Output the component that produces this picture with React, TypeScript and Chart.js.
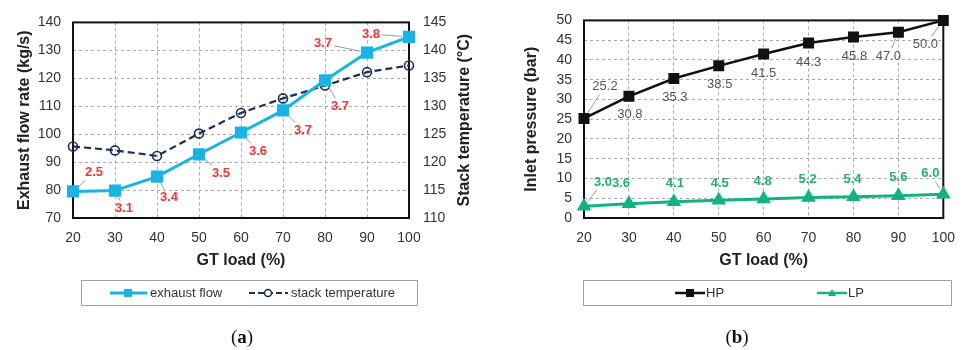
import React, { useEffect, useRef } from 'react';
import { Chart, registerables } from 'chart.js';
Chart.register(...registerables);

// ---------- data ----------
const gtLoad = [20, 30, 40, 50, 60, 70, 80, 90, 100];
const exhaustFlow = [79.5, 79.8, 84.8, 92.8, 100.6, 108.5, 119.3, 129.2, 134.8];
const stackTemp = [122.8, 122.1, 121.1, 125.1, 128.8, 131.4, 133.7, 136.1, 137.3];
const exhaustNotes = ['2.5', '3.1', '3.4', '3.5', '3.6', '3.7', '3.7', '3.7', '3.8'];
const hpPressure = [25.2, 30.8, 35.3, 38.5, 41.5, 44.3, 45.8, 47.0, 50.0];
const lpPressure = [3.0, 3.6, 4.1, 4.5, 4.8, 5.2, 5.4, 5.6, 6.0];

// label placement (offsets from the point, px)
const exhaustDx = [21, 9, 12, 22, 17, 20, 15, -44, -38];
const exhaustDy = [-19, 18, 21, 19, 19, 20, 26, -9, -3];
const exhaustLeader = [true, true, true, true, true, true, true, true, true];
const hpDx = [21, 1, 1, 1, 0, 0, 1, -10, -18];
const hpDy = [-32, 18, 19, 19, 19, 19, 19, 24, 24];
const hpLeader = [true, false, false, false, false, false, false, true, true];
const lpDx = [19, -8, 1, 1, -1, -1, -1, 0, -13];
const lpDy = [-24, -20, -18, -17, -18, -18, -17, -18, -21];
const lpLeader = [true, false, false, false, false, false, false, false, true];

const CYAN = '#19B4E3';
const NAVY = '#1C2F5C';
const RED = '#FF3333';
const GREEN = '#12B382';
const GREEN_TXT = '#1DB36E';
const FONT = "'Liberation Sans', Arial, sans-serif";

type LabelSet = {
  dataset: number; texts: string[]; dx: number[]; dy: number[]; leader: boolean[];
  color: string; font: string;
};

function makeLabelPlugin(sets: LabelSet[]) {
  return {
    id: 'pointLabels',
    afterDatasetsDraw(chart: any) {
      const ctx = chart.ctx;
      ctx.save();
      sets.forEach((set) => {
        const meta = chart.getDatasetMeta(set.dataset);
        ctx.font = set.font;
        ctx.textAlign = 'center';
        ctx.textBaseline = 'middle';
        meta.data.forEach((pt: any, i: number) => {
          const px = pt.x, py = pt.y;
          const cx = px + set.dx[i], cy = py + set.dy[i];
          const text = set.texts[i];
          const w = ctx.measureText(text).width;
          if (set.leader[i]) {
            const vx = cx - px, vy = cy - py;
            const len = Math.hypot(vx, vy);
            const ux = vx / len, uy = vy / len;
            const hw = w / 2 + 2, hh = 8;
            const s = Math.min(
              Math.abs(vx) > 0 ? hw / Math.abs(vx) : Infinity,
              Math.abs(vy) > 0 ? hh / Math.abs(vy) : Infinity
            );
            if (s < 1) {
              const ex = cx - vx * s, ey = cy - vy * s;
              ctx.beginPath();
              ctx.moveTo(px + ux * 7, py + uy * 7);
              ctx.lineTo(ex, ey);
              ctx.strokeStyle = '#9a9a9a';
              ctx.lineWidth = 1;
              ctx.stroke();
            }
          }
          ctx.fillStyle = set.color;
          ctx.fillText(text, cx, cy);
        });
      });
      ctx.restore();
    },
  };
}

const framePlugin = {
  id: 'frame',
  beforeDatasetsDraw(chart: any) {
    const { ctx, chartArea: a } = chart;
    ctx.save();
    ctx.strokeStyle = '#111';
    ctx.lineWidth = 2;
    ctx.strokeRect(a.left, a.top, a.right - a.left, a.bottom - a.top);
    ctx.restore();
  },
};

function makeSideTitle(text: string, x: number) {
  return {
    id: 'sideTitle',
    afterDraw(chart: any) {
      const { ctx, chartArea: a } = chart;
      ctx.save();
      ctx.translate(x, (a.top + a.bottom) / 2);
      ctx.rotate(-Math.PI / 2);
      ctx.font = `bold 16px ${FONT}`;
      ctx.fillStyle = '#222';
      ctx.textAlign = 'center';
      ctx.textBaseline = 'middle';
      ctx.fillText(text, 0, 0);
      ctx.restore();
    },
  };
}

const tickFont = { family: FONT, size: 14 };

const xScale = (title: string) => ({
  type: 'linear' as const,
  min: 20,
  max: 100,
  ticks: { stepSize: 10, padding: 12, color: '#333', font: tickFont, autoSkip: false, maxRotation: 0 },
  grid: { color: '#a8a8a8', lineWidth: 1, drawTicks: false },
  border: { display: false, dash: [3, 3] },
  title: {
    display: true, text: title, color: '#222',
    font: { family: FONT, size: 16, weight: 'bold' as const },
    padding: { top: 0, bottom: 5 },
  },
  afterFit: (s: any) => { s.height = 57; },
});

function LeftChart() {
  const ref = useRef<HTMLCanvasElement>(null);
  useEffect(() => {
    const chart = new Chart(ref.current!, {
      type: 'line',
      data: {
        labels: gtLoad,
        datasets: [
          {
            label: 'exhaust flow',
            data: gtLoad.map((x, i) => ({ x, y: exhaustFlow[i] })),
            borderColor: CYAN, backgroundColor: CYAN, borderWidth: 3,
            pointStyle: 'rect', pointRadius: 6.5, pointBackgroundColor: CYAN,
            pointBorderColor: CYAN, yAxisID: 'y', clip: false as any,
          },
          {
            label: 'stack temperature',
            data: gtLoad.map((x, i) => ({ x, y: stackTemp[i] })),
            borderColor: NAVY, borderWidth: 2.2, borderDash: [7, 4],
            pointStyle: 'circle', pointRadius: 4.5, pointBackgroundColor: 'rgba(255,255,255,0)',
            pointBorderColor: NAVY, pointBorderWidth: 1.6, yAxisID: 'y2', clip: false as any,
          },
        ],
      },
      options: {
        animation: false,
        responsive: false,
        layout: { padding: { top: 17, left: 0, right: 0, bottom: 0 } },
        plugins: { legend: { display: false }, tooltip: { enabled: false } },
        scales: {
          x: xScale('GT load (%)') as any,
          y: {
            type: 'linear', position: 'left', min: 70, max: 140,
            ticks: { stepSize: 10, padding: 12, color: '#333', font: tickFont, autoSkip: false },
            grid: { color: '#a8a8a8', drawTicks: false },
            border: { display: false, dash: [3, 3] },
            title: {
              display: true, text: 'Exhaust flow rate (kg/s)', color: '#222',
              font: { family: FONT, size: 16, weight: 'bold' }, padding: { top: 15, bottom: 0 },
            },
            afterFit: (s: any) => { s.width = 73; },
          },
          y2: {
            type: 'linear', position: 'right', min: 110, max: 145,
            ticks: { stepSize: 5, padding: 14, color: '#333', font: tickFont, autoSkip: false },
            grid: { display: false, drawTicks: false },
            border: { display: false },
            afterFit: (s: any) => { s.width = 71; },
          },
        } as any,
      },
      plugins: [
        framePlugin,
        makeSideTitle('Stack temperature (°C)', 465),
        makeLabelPlugin([
          {
            dataset: 0, texts: exhaustNotes, dx: exhaustDx, dy: exhaustDy, leader: exhaustLeader,
            color: RED, font: `bold 13px ${FONT}`,
          },
        ]),
      ],
    });
    return () => chart.destroy();
  }, []);
  return <canvas ref={ref} width={480} height={275} />;
}

function RightChart() {
  const ref = useRef<HTMLCanvasElement>(null);
  useEffect(() => {
    const chart = new Chart(ref.current!, {
      type: 'line',
      data: {
        labels: gtLoad,
        datasets: [
          {
            label: 'HP',
            data: gtLoad.map((x, i) => ({ x, y: hpPressure[i] })),
            borderColor: '#111', borderWidth: 2.5,
            pointStyle: 'rect', pointRadius: 6, pointBackgroundColor: '#111',
            pointBorderColor: '#111', clip: false as any,
          },
          {
            label: 'LP',
            data: gtLoad.map((x, i) => ({ x, y: lpPressure[i] })),
            borderColor: GREEN, borderWidth: 3,
            pointStyle: 'triangle', pointRadius: 5.5, pointBackgroundColor: GREEN,
            pointBorderColor: GREEN, clip: false as any,
          },
        ],
      },
      options: {
        animation: false,
        responsive: false,
        layout: { padding: { top: 18, left: 0, right: 14, bottom: 0 } },
        plugins: { legend: { display: false }, tooltip: { enabled: false } },
        scales: {
          x: xScale('GT load (%)') as any,
          y: {
            type: 'linear', position: 'left', min: 0, max: 50,
            ticks: { stepSize: 5, padding: 12, color: '#333', font: tickFont, autoSkip: false },
            grid: { color: '#a8a8a8', drawTicks: false },
            border: { display: false, dash: [3, 3] },
            title: {
              display: true, text: 'Inlet pressure (bar)', color: '#222',
              font: { family: FONT, size: 16, weight: 'bold' }, padding: { top: 42, bottom: 0 },
            },
            afterFit: (s: any) => { s.width = 104; },
          },
        } as any,
      },
      plugins: [
        framePlugin,
        makeLabelPlugin([
          {
            dataset: 0, texts: hpPressure.map((v) => v.toFixed(1)), dx: hpDx, dy: hpDy, leader: hpLeader,
            color: '#555', font: `13px ${FONT}`,
          },
          {
            dataset: 1, texts: lpPressure.map((v) => v.toFixed(1)), dx: lpDx, dy: lpDy, leader: lpLeader,
            color: GREEN_TXT, font: `bold 13px ${FONT}`,
          },
        ]),
      ],
    });
    return () => chart.destroy();
  }, []);
  return <canvas ref={ref} width={487} height={275} />;
}

const legendText: React.CSSProperties = {
  position: 'absolute', top: 280, height: 26, lineHeight: '26px',
  fontFamily: FONT, fontSize: 13, color: '#333', whiteSpace: 'nowrap',
};
const legendBox: React.CSSProperties = {
  position: 'absolute', top: 280, height: 26, boxSizing: 'border-box',
  border: '1.5px solid #a0a0a0', background: '#fff',
};
const caption: React.CSSProperties = {
  position: 'absolute', top: 326, width: 100, textAlign: 'center',
  fontFamily: "'Liberation Serif', 'Times New Roman', serif", fontSize: 19, lineHeight: '22px', color: '#111',
};

export default function App() {
  return (
    <div style={{ position: 'absolute', left: 0, top: 0, width: 967, height: 350, background: '#fff', overflow: 'hidden' }}>
      <div style={{ position: 'absolute', left: 0, top: 0 }}><LeftChart /></div>
      <div style={{ position: 'absolute', left: 480, top: 0 }}><RightChart /></div>

      <div style={{ ...legendBox, left: 81, width: 337 }} />
      <div style={{ ...legendBox, left: 583, width: 369 }} />
      <svg width={967} height={350} style={{ position: 'absolute', left: 0, top: 0, pointerEvents: 'none' }}>
        <line x1={110} y1={293} x2={147} y2={293} stroke={CYAN} strokeWidth={3} />
        <rect x={124} y={289} width={8} height={8} fill={CYAN} />
        <line x1={249} y1={293} x2={288} y2={293} stroke={NAVY} strokeWidth={2} strokeDasharray="6 3" />
        <circle cx={268} cy={293} r={3.5} fill="#fff" stroke={NAVY} strokeWidth={1.5} />
        <line x1={675} y1={293} x2={705} y2={293} stroke="#111" strokeWidth={2.5} />
        <rect x={686} y={289} width={8} height={8} fill="#111" />
        <line x1={817} y1={293} x2={847} y2={293} stroke={GREEN} strokeWidth={2.5} />
        <polygon points="832,289 836,296 828,296" fill={GREEN} />
      </svg>
      <span style={{ ...legendText, left: 150 }}>exhaust flow</span>
      <span style={{ ...legendText, left: 291 }}>stack temperature</span>
      <span style={{ ...legendText, left: 706 }}>HP</span>
      <span style={{ ...legendText, left: 848 }}>LP</span>

      <div style={{ ...caption, left: 192 }}>(<b>a</b>)</div>
      <div style={{ ...caption, left: 687 }}>(<b>b</b>)</div>
    </div>
  );
}
